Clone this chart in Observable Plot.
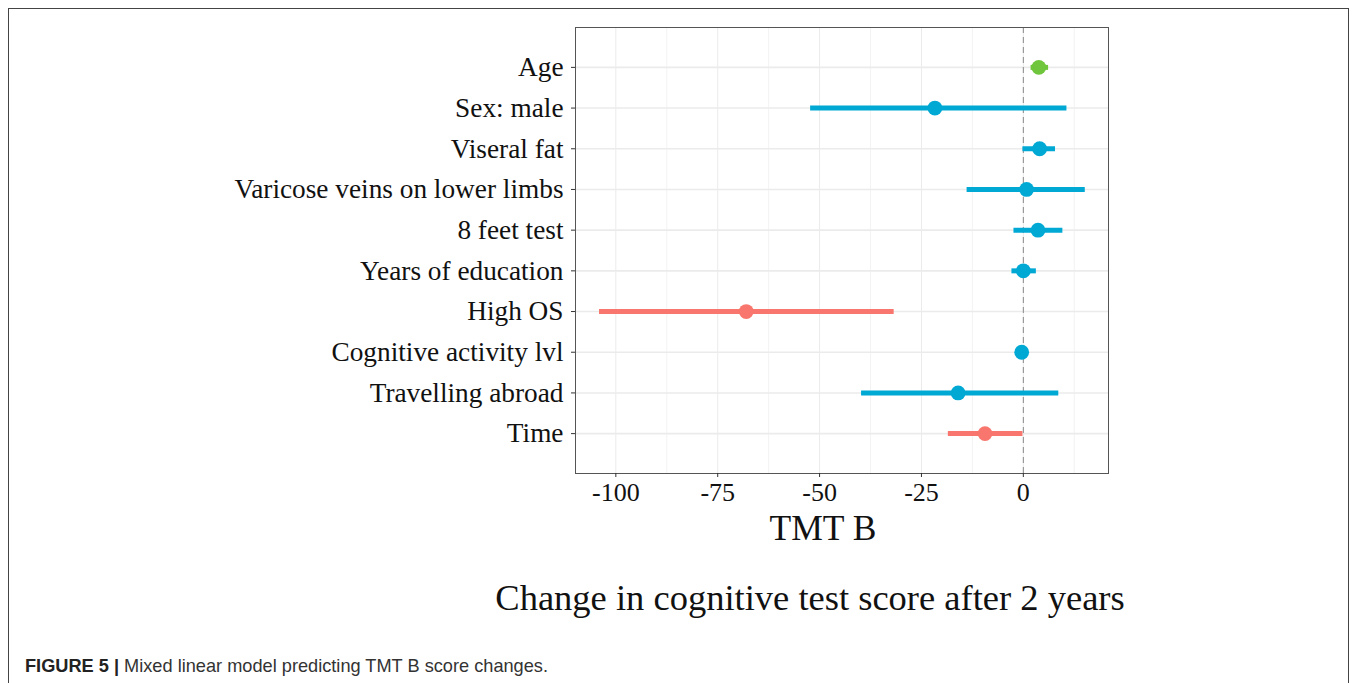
<!DOCTYPE html>
<html>
<head>
<meta charset="utf-8">
<script src="https://cdn.jsdelivr.net/npm/d3@7"></script>
<script src="https://cdn.jsdelivr.net/npm/@observablehq/plot@0.6"></script>
<style>
  body { margin: 0; background: #fff; width: 1358px; height: 683px; overflow: hidden; position: relative; }
  #frame { position: absolute; left: 8px; top: 8px; width: 1341px; height: 700px; border: 1px solid #444; box-sizing: border-box; }
  #chart { position: absolute; left: 0; top: 0; }
  .serif { font-family: "Liberation Serif", "Times New Roman", serif; color: #111; position: absolute; line-height: 1; white-space: nowrap; }
  #xlabel { left: 623px; width: 400px; text-align: center; top: 511px; font-size: 35.5px; }
  #title { left: 410px; width: 800px; text-align: center; top: 580px; font-size: 36.5px; }
  #caption { position: absolute; left: 25px; top: 657px; font-family: "Liberation Sans", Arial, sans-serif; font-size: 18.2px; line-height: 1; color: #333; white-space: nowrap; }
  #caption b { color: #222; }
</style>
</head>
<body>
<div id="frame"></div>
<div id="chart"></div>
<div id="xlabel" class="serif">TMT B</div>
<div id="title" class="serif">Change in cognitive test score after 2 years</div>
<div id="caption"><b>FIGURE 5 |</b> Mixed linear model predicting TMT B score changes.</div>
<script>
const labels = ["Age", "Sex: male", "Viseral fat", "Varicose veins on lower limbs", "8 feet test",
  "Years of education", "High OS", "Cognitive activity lvl", "Travelling abroad", "Time"];
const estimate = [3.8, -21.7, 4.0, 0.8, 3.6, 0.0, -68.0, -0.4, -16.0, -9.4];
const lower    = [1.9, -52.2, -0.1, -13.8, -2.3, -2.8, -104.0, -1.2, -39.7, -18.4];
const upper    = [6.2, 10.7, 7.9, 15.2, 9.7, 3.2, -31.7, 0.4, 8.7, -0.1];
const effect   = ["positive", "none", "none", "none", "none", "none", "negative", "none", "none", "negative"];
const effectKinds = ["negative", "none", "positive"];
const effectColors = ["#f8766d", "#00a8d4", "#6fc53b"];
const xTicks = [-100, -75, -50, -25, 0];
const xMinor = [-87.5, -62.5, -37.5, -12.5, 12.5];

const data = labels.map((label, i) => ({label, est: estimate[i], lo: lower[i], hi: upper[i], effect: effect[i]}));
const font = "'Liberation Serif', 'Times New Roman', serif";

const chart = Plot.plot({
  width: 1358,
  height: 560,
  marginLeft: 575,
  marginRight: 250,
  marginTop: 27,
  marginBottom: 87,
  style: {fontFamily: font, color: "#111", background: "transparent"},
  x: {domain: [-109.9, 20.9]},
  y: {type: "point", domain: labels, padding: 0.98, round: false},
  color: {domain: effectKinds, range: effectColors},
  marks: [
    Plot.gridX(xMinor, {stroke: "#f3f3f3", strokeOpacity: 1}),
    Plot.gridX(xTicks, {stroke: "#ebebeb", strokeOpacity: 1}),
    Plot.gridY(labels, {stroke: "#ebebeb", strokeOpacity: 1, strokeWidth: 1.6}),
    Plot.ruleX([0], {stroke: "#8a8a8a", strokeDasharray: "6,4", strokeWidth: 1}),
    Plot.ruleY(data, {y: "label", x1: "lo", x2: "hi", stroke: "effect", strokeWidth: 5}),
    Plot.dot(data, {x: "est", y: "label", fill: "effect", r: 7.4}),
    Plot.frame({stroke: "#555", strokeWidth: 1}),
    Plot.axisX(xTicks, {tickSize: 4, tickPadding: 5, fontSize: 26, label: null, tickFormat: d => String(d), stroke: "#333"}),
    Plot.axisY({tickSize: 4, tickPadding: 8, fontSize: 27.3, label: null, stroke: "#333"})
  ]
});
document.getElementById("chart").appendChild(chart);
</script>
</body>
</html>
